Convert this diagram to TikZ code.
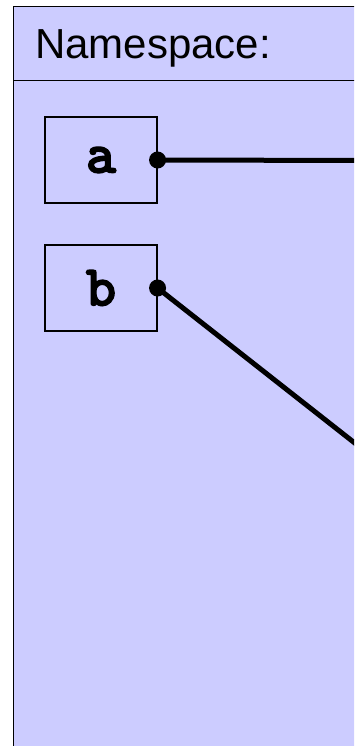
\documentclass[tikz,border=0pt]{standalone}
\usepackage{fontspec}
\setmainfont{Liberation Sans}
\definecolor{nsfill}{RGB}{204,204,255}
\newcommand{\thickglyph}[1]{\special{pdf:literal direct 2 Tr 1.3 w}#1\special{pdf:literal direct 0 Tr}}
\begin{document}
\begin{tikzpicture}[x=1pt,y=1pt,
  varbox/.style={draw=black,line width=1.1pt,minimum width=112pt,minimum height=86pt,inner sep=0pt,font=\ttfamily\bfseries\fontsize{58}{58}\selectfont},
  ref/.style={line width=5pt,black},
  dotend/.style={fill=black,draw=none}]
\useasboundingbox (0,0) rectangle (354,-746);
\clip (0,0) rectangle (354,-746);
\node[draw=black,line width=1.4pt,fill=nsfill,minimum width=360pt,minimum height=800pt,anchor=north west,inner sep=0pt] (frame) at (13,-6) {};
\coordinate (hl) at (13,-80.5);
\coordinate (hr) at (370,-80.5);
\draw[line width=1.2pt] (hl) -- (hr);
\node[anchor=base west,inner sep=0pt,font=\fontsize{42}{42}\selectfont] (title) at (35,-59) {Namespace:};
\node[varbox] (a) at (101,-160) {\thickglyph{a}};
\node[varbox] (b) at (101,-288) {\thickglyph{b}};
\coordinate (aend) at (370,-160.5);
\coordinate (bend) at (370,-455);
\draw[ref] (a.east) -- (aend);
\draw[ref] (b.east) -- (bend);
\fill[dotend] (a.east) circle (8.5pt);
\fill[dotend] (b.east) circle (8.5pt);
\end{tikzpicture}
\end{document}
